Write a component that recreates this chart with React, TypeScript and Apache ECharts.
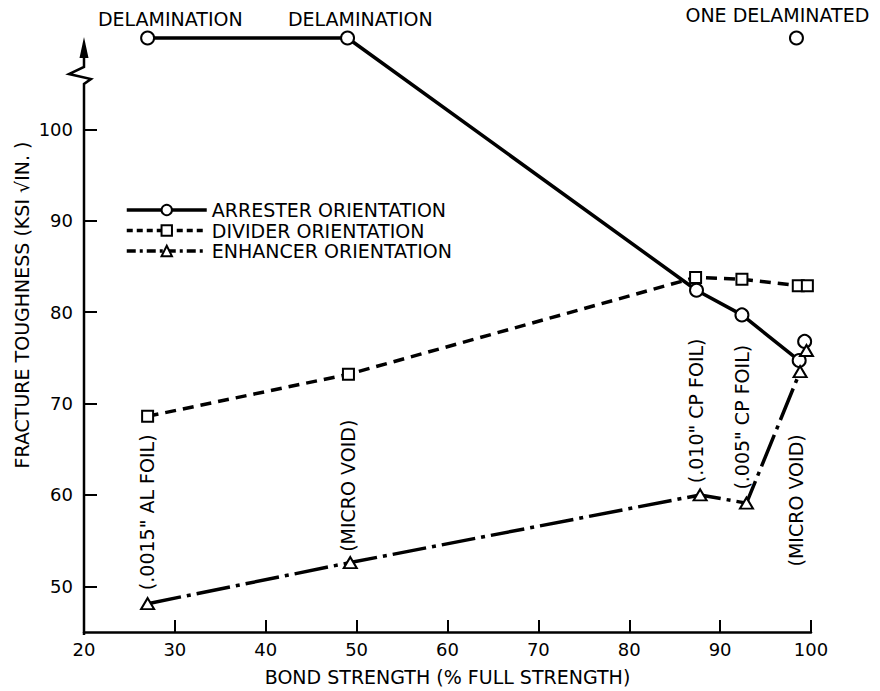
import React, { useEffect, useRef } from "react";
import * as echarts from "echarts";

// ---- data ----
const xTickValues = [20, 30, 40, 50, 60, 70, 80, 90, 100];
const yTickValues = [50, 60, 70, 80, 90, 100];

const arresterName = "ARRESTER ORIENTATION";
const dividerName = "DIVIDER ORIENTATION";
const enhancerName = "ENHANCER ORIENTATION";

const arresterPoints = [
  [27, 110],
  [49, 110],
  [87.4, 82.4],
  [92.4, 79.7],
  [98.7, 74.7],
];
const arresterLoosePoints = [
  [98.4, 110],
  [99.3, 76.8],
];
const dividerPoints = [
  [27, 68.6],
  [49.1, 73.2],
  [87.3, 83.8],
  [92.4, 83.6],
  [98.6, 82.9],
  [99.6, 82.9],
];
const enhancerPoints = [
  [27, 48.1],
  [49.3, 52.6],
  [87.8, 60.0],
  [92.9, 59.1],
  [98.8, 73.5],
];
const enhancerLoosePoints = [[99.5, 75.8]];

const topNotes = [
  { text: "DELAMINATION", x: 29.5, y: 112.1 },
  { text: "DELAMINATION", x: 50.4, y: 112.1 },
  { text: "ONE DELAMINATED", x: 96.3, y: 112.5 },
];
const sideNotes = [
  { text: "(.0015\" AL FOIL)", x: 26.9, y: 58.1 },
  { text: "(MICRO VOID)", x: 49.0, y: 61.0 },
  { text: "(.010\" CP FOIL)", x: 87.4, y: 69.2 },
  { text: "(.005\" CP FOIL)", x: 92.4, y: 68.5 },
  { text: "(MICRO VOID)", x: 98.4, y: 59.4 },
];

const xTitle = "BOND STRENGTH (% FULL STRENGTH)";
const yTitle = "FRACTURE TOUGHNESS (KSI \u221AIN. )";

// ---- layout / style ----
const W = 880;
const H = 691;
const GRID_LEFT = 84;
const GRID_RIGHT = 69;
const GRID_TOP = 38;
const GRID_BOTTOM = 56;
const FONT = "DejaVu Sans";
const INK = "#000";
const LINE_W = 3.5;

const solidDash: any = "solid";
const dividerDash = [11, 7];
const enhancerDash = [34, 6, 4, 6];

const markerStyle = { color: "#fff", borderColor: INK, borderWidth: 2, opacity: 1 };

export default function App() {
  const ref = useRef<HTMLDivElement>(null);

  useEffect(() => {
    if (!ref.current) return;
    const chart = echarts.init(ref.current, undefined, { renderer: "svg" });
    const axisX = GRID_LEFT;
    const axisBottom = H - GRID_BOTTOM;

    const baseGraphic: any[] = [
      {
        type: "polyline",
        shape: {
          points: [
            [axisX, axisBottom],
            [axisX, 84],
            [axisX + 7, 79],
            [axisX - 15, 74],
            [axisX, 67],
            [axisX, 56],
          ],
        },
        style: { stroke: INK, lineWidth: 2.5, fill: null },
        silent: true,
      },
      {
        type: "polygon",
        shape: {
          points: [
            [axisX, 37],
            [axisX - 4.5, 58],
            [axisX + 4.5, 58],
          ],
        },
        style: { fill: INK },
        silent: true,
      },
      {
        type: "text",
        x: 22,
        y: 305,
        rotation: Math.PI / 2,
        style: {
          text: yTitle,
          fontSize: 19,
          fontFamily: FONT,
          fill: INK,
          align: "center",
          verticalAlign: "middle",
        },
        silent: true,
      },
    ];

    const option: any = {
      animation: false,
      backgroundColor: "#fff",
      textStyle: { fontFamily: FONT, color: INK },
      grid: { left: GRID_LEFT, right: GRID_RIGHT, top: GRID_TOP, bottom: GRID_BOTTOM },
      legend: {
        data: [
          { name: arresterName, lineStyle: { type: solidDash, width: LINE_W, color: INK } },
          { name: dividerName, lineStyle: { type: [6, 4], width: LINE_W, color: INK } },
          { name: enhancerName, lineStyle: { type: [9, 4, 3, 4], width: LINE_W, color: INK } },
        ],
        orient: "vertical",
        left: 120,
        top: 195,
        itemWidth: 80,
        itemHeight: 13,
        itemGap: 0.5,
        selectedMode: false,
        textStyle: { fontFamily: FONT, fontSize: 19, color: INK, lineHeight: 20 },
      },
      xAxis: {
        type: "value",
        min: xTickValues[0],
        max: xTickValues[xTickValues.length - 1],
        interval: 10,
        axisLine: { lineStyle: { color: INK, width: 2.5 } },
        axisTick: { inside: true, length: 12, lineStyle: { color: INK, width: 2 } },
        axisLabel: { color: INK, fontSize: 18, margin: 8, fontFamily: FONT },
        splitLine: { show: false },
        name: xTitle,
        nameLocation: "middle",
        nameGap: 35,
        nameTextStyle: { fontSize: 19, color: INK, fontFamily: FONT },
      },
      yAxis: {
        type: "value",
        min: 45,
        max: 110,
        axisLine: { show: false },
        axisTick: {
          inside: true,
          length: 13,
          customValues: yTickValues,
          lineStyle: { color: INK, width: 2 },
        },
        axisLabel: {
          customValues: yTickValues,
          color: INK,
          fontSize: 18,
          margin: 11,
          fontFamily: FONT,
        },
        splitLine: { show: false },
      },
      graphic: baseGraphic,
      series: [
        {
          type: "line",
          name: arresterName,
          data: arresterPoints,
          symbol: "circle",
          symbolSize: 13,
          showSymbol: true,
          clip: false,
          lineStyle: { color: INK, width: LINE_W, type: solidDash },
          itemStyle: markerStyle,
          z: 3,
        },
        {
          type: "scatter",
          name: "arrester-extra",
          data: arresterLoosePoints,
          symbol: "circle",
          symbolSize: 13,
          clip: false,
          itemStyle: markerStyle,
          z: 4,
        },
        {
          type: "line",
          name: dividerName,
          data: dividerPoints,
          symbol: "rect",
          symbolSize: 11,
          showSymbol: true,
          clip: false,
          lineStyle: { color: INK, width: LINE_W, type: dividerDash },
          itemStyle: markerStyle,
          z: 3,
        },
        {
          type: "line",
          name: enhancerName,
          data: enhancerPoints,
          symbol: "triangle",
          symbolSize: [13, 11],
          showSymbol: true,
          clip: false,
          lineStyle: { color: INK, width: LINE_W, type: enhancerDash },
          itemStyle: markerStyle,
          z: 3,
        },
        {
          type: "scatter",
          name: "enhancer-extra",
          data: enhancerLoosePoints,
          symbol: "triangle",
          symbolSize: [13, 11],
          clip: false,
          itemStyle: markerStyle,
          z: 4,
        },
      ],
    };

    chart.setOption(option);

    const noteGraphic: any[] = [];
    topNotes.forEach((n) => {
      const p = chart.convertToPixel({ gridIndex: 0 }, [n.x, n.y]) as number[];
      noteGraphic.push({
        type: "text",
        x: p[0],
        y: p[1],
        silent: true,
        style: {
          text: n.text,
          fontSize: 19,
          fontFamily: FONT,
          fill: INK,
          align: "center",
          verticalAlign: "middle",
        },
      });
    });
    sideNotes.forEach((n) => {
      const p = chart.convertToPixel({ gridIndex: 0 }, [n.x, n.y]) as number[];
      noteGraphic.push({
        type: "text",
        x: p[0],
        y: p[1],
        rotation: Math.PI / 2,
        silent: true,
        style: {
          text: n.text,
          fontSize: 19,
          fontFamily: FONT,
          fill: INK,
          align: "center",
          verticalAlign: "middle",
        },
      });
    });
    chart.setOption({ graphic: baseGraphic.concat(noteGraphic) });

    return () => chart.dispose();
  }, []);

  return (
    <div
      ref={ref}
      style={{ position: "fixed", left: 0, top: 0, width: W, height: H, background: "#fff" }}
    />
  );
}
